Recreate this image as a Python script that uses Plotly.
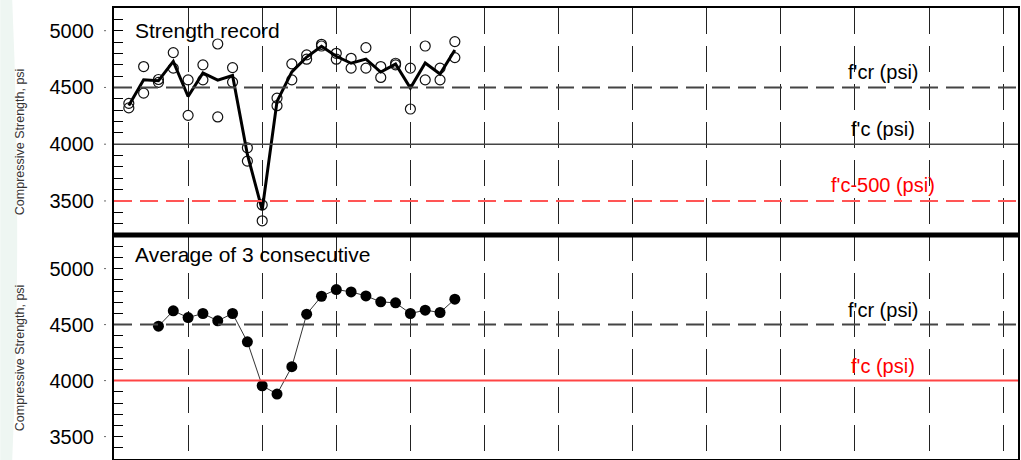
import plotly.graph_objects as go

# ---- data -------------------------------------------------------------
test_no = list(range(1, 24))
# two cylinder breaks per test (psi)
cylinder_hi = [4360, 4684, 4570, 4807, 4567, 4699, 4883, 4675, 3968, 3465, 4406, 4708,
               4787, 4880, 4801, 4757, 4851, 4684, 4713, 4670, 4865, 4670, 4904]
cylinder_lo = [4320, 4450, 4545, 4670, 4254, 4567, 4240, 4547, 3851, 3325, 4339, 4567,
               4749, 4865, 4749, 4670, 4670, 4588, 4699, 4310, 4567, 4567, 4763]
# strength of each test (psi)
test_avg = [4340, 4567, 4560, 4730, 4420, 4628, 4565, 4605, 3910, 3420, 4377, 4637,
            4768, 4862, 4775, 4713, 4750, 4636, 4706, 4494, 4716, 4618, 4830]
# running average of three consecutive tests (psi)
avg3_no = list(range(3, 24))
avg3 = [4486, 4623, 4563, 4599, 4534, 4599, 4346, 3954, 3880, 4124, 4593, 4753,
        4813, 4792, 4756, 4703, 4694, 4599, 4629, 4608, 4727]

FCR = 4500        # required average strength
FC = 4000         # specified strength
FC_LOW = FC - 500

major_ticks = [3500, 4000, 4500, 5000]

# ---- figure -----------------------------------------------------------
W, H = 1021, 460
ML, MR, MT, MB = 114, 1, 8, 1
plot_w = W - ML - MR
plot_h = H - MT - MB
split = (459 - 235) / plot_h   # boundary between the two panels (paper units)

FONT = "Liberation Sans, Arial, sans-serif"

fig = go.Figure()

for ys in (cylinder_hi, cylinder_lo):
    fig.add_trace(go.Scatter(
        x=test_no, y=ys, mode="markers", xaxis="x", yaxis="y",
        marker=dict(symbol="circle-open", size=10, color="#111",
                    line=dict(width=1.2, color="#111")),
        showlegend=False, hoverinfo="x+y"))

fig.add_trace(go.Scatter(
    x=test_no, y=test_avg, mode="lines", xaxis="x", yaxis="y",
    line=dict(color="black", width=3), showlegend=False))

fig.add_trace(go.Scatter(
    x=avg3_no, y=avg3, mode="lines+markers", xaxis="x2", yaxis="y2",
    line=dict(color="#333", width=1),
    marker=dict(symbol="circle", size=11, color="black"),
    showlegend=False))

xcommon = dict(range=[0, 61], tick0=0, dtick=5, showticklabels=False, ticks="",
               showgrid=True, gridcolor="#222", gridwidth=1.2, griddash="26px,12px",
               zeroline=False, showline=True, mirror=True, linecolor="black",
               linewidth=2)
ycommon = dict(tickvals=major_ticks, ticks="inside", ticklen=9, tickcolor="black",
               tickwidth=1,
               minor=dict(dtick=100, ticks="inside", ticklen=9, tickcolor="black",
                          tickwidth=1),
               showgrid=False, zeroline=False, showline=True, mirror=True,
               linecolor="black", linewidth=2,
               tickfont=dict(family=FONT, size=20, color="black"),
               ticklabelstandoff=14)

fig.update_layout(
    width=W, height=H,
    margin=dict(l=ML, r=MR, t=MT, b=MB),
    paper_bgcolor="white", plot_bgcolor="white",
    xaxis=dict(domain=[0, 1], anchor="y", **xcommon),
    xaxis2=dict(domain=[0, 1], anchor="y2", **xcommon),
    yaxis=dict(domain=[split, 1], anchor="x", range=[3200, 5200], **ycommon),
    yaxis2=dict(domain=[0, split], anchor="x2", range=[3300, 5300], **ycommon),
    font=dict(family=FONT),
)


def px_to_paper_x(px):
    return (px - ML) / plot_w


def px_to_paper_y(py):
    return (H - MB - py) / plot_h


shapes = []
# faint decorative swoosh on the left edge
shapes.append(dict(
    type="path", xref="paper", yref="paper", layer="below",
    path=("M {a},{t} L {b},{t} Q {c},{m} {b},{bt} L {a},{bt} Z").format(
        a=px_to_paper_x(0), b=px_to_paper_x(12), c=px_to_paper_x(22),
        t=px_to_paper_y(0), m=px_to_paper_y(230), bt=px_to_paper_y(460)),
    fillcolor="#eef6f2", line=dict(width=0)))

# reference levels, top panel
shapes.append(dict(type="line", xref="x domain", yref="y", x0=0, x1=1, y0=FCR, y1=FCR,
                   line=dict(color="#444", width=2, dash="18px,8px")))
shapes.append(dict(type="line", xref="x domain", yref="y", x0=0, x1=1, y0=FC, y1=FC,
                   line=dict(color="#444", width=1.5)))
shapes.append(dict(type="line", xref="x domain", yref="y", x0=0, x1=1,
                   y0=FC_LOW, y1=FC_LOW,
                   line=dict(color="#ff5555", width=2, dash="18px,8px")))
# reference levels, bottom panel
shapes.append(dict(type="line", xref="x2 domain", yref="y2", x0=0, x1=1, y0=FCR, y1=FCR,
                   line=dict(color="#444", width=2, dash="18px,8px")))
shapes.append(dict(type="line", xref="x2 domain", yref="y2", x0=0, x1=1, y0=FC, y1=FC,
                   line=dict(color="#ff4444", width=2)))

# heavy divider between panels
shapes.append(dict(type="line", xref="paper", yref="paper", x0=0, x1=1,
                   y0=split, y1=split, line=dict(color="black", width=5)))

# small outer tick dots beside the labels
for yref in ("y", "y2"):
    for v in major_ticks:
        shapes.append(dict(type="line", xref="paper", yref=yref,
                           x0=px_to_paper_x(104), x1=px_to_paper_x(106), y0=v, y1=v,
                           line=dict(color="#666", width=1)))

fig.update_layout(shapes=shapes)

ann = []
lab_x = 51.9
ann.append(dict(x=lab_x, y=FCR, xref="x", yref="y", text="f'cr (psi)", showarrow=False,
                yshift=15, font=dict(size=20, color="black")))
ann.append(dict(x=lab_x, y=FC, xref="x", yref="y", text="f'c (psi)", showarrow=False,
                yshift=15, font=dict(size=20, color="black")))
ann.append(dict(x=lab_x, y=FC_LOW, xref="x", yref="y", text="f'c-500 (psi)",
                showarrow=False, yshift=16, font=dict(size=20, color="red")))
ann.append(dict(x=lab_x, y=FCR, xref="x2", yref="y2", text="f'cr (psi)", showarrow=False,
                yshift=15, font=dict(size=20, color="black")))
ann.append(dict(x=lab_x, y=FC, xref="x2", yref="y2", text="f'c (psi)", showarrow=False,
                yshift=15, font=dict(size=20, color="red")))

ann.append(dict(x=px_to_paper_x(133), y=px_to_paper_y(30), xref="paper", yref="paper",
                xanchor="left", yanchor="middle", text="Strength record",
                showarrow=False, font=dict(size=21, color="black")))
ann.append(dict(x=px_to_paper_x(133), y=px_to_paper_y(255), xref="paper", yref="paper",
                xanchor="left", yanchor="middle", text="Average of 3 consecutive",
                showarrow=False, font=dict(size=21, color="black")))

for cy in (142, 358):
    ann.append(dict(x=px_to_paper_x(20), y=px_to_paper_y(cy), xref="paper",
                    yref="paper", xanchor="center", yanchor="middle",
                    text="Compressive Strength, psi", textangle=-90, showarrow=False,
                    font=dict(size=12.5, color="#333")))

fig.update_layout(annotations=ann)

fig.write_html("out.html")
